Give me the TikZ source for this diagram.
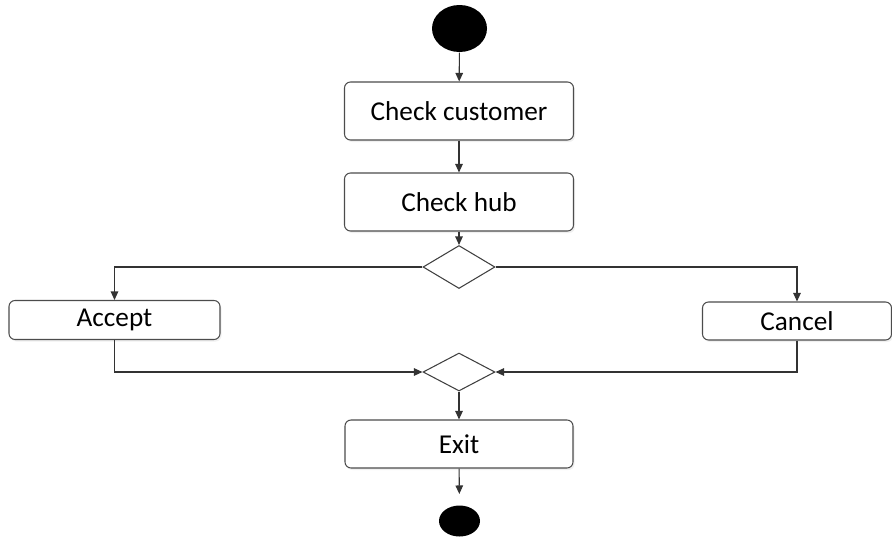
\documentclass[tikz,border=0pt]{standalone}
\usepackage{fontspec}
\setmainfont{Carlito}
\usetikzlibrary{arrows.meta, shapes.geometric, shadows}

\begin{document}
\begin{tikzpicture}[
    line width=0.6pt, draw=black!75,
    font=\fontsize{15.5}{18}\selectfont,
    action/.style={draw=black!70, rounded corners=0.12cm, fill=white,
	minimum width=4.58cm, minimum height=1.16cm,
	drop shadow={opacity=0.12, shadow xshift=0.03cm, shadow yshift=-0.04cm}},
    branch/.style={draw=black!75, shape=diamond, fill=white, inner sep=0pt,
	minimum width=1.44cm, minimum height=0.86cm},
    flow/.style={-{Triangle[length=0.17cm, width=0.15cm]}, draw=black!80}
]
    \useasboundingbox (0, 0) rectangle (17.84, -10.76);

    \node [fill=black, ellipse, minimum width=1.1cm, minimum height=0.94cm] (start) at (9.19, -0.57) {};
    \node [action] (customer) at (9.18, -2.22) {Check customer};
    \node [action] (hub) at (9.18, -4.04) {Check hub};
    \node [branch] (split) at (9.18, -5.34) {};
    \node [action, minimum width=4.22cm, minimum height=0.78cm] (accept) at (2.29, -6.4) {Accept};
    \node [action, minimum width=3.78cm, minimum height=0.76cm] (cancel) at (15.94, -6.42) {Cancel};
    \node [branch, minimum height=0.76cm] (merge) at (9.18, -7.44) {};
    \node [action, minimum width=4.56cm, minimum height=0.96cm] (exit) at (9.18, -8.88) {Exit};
    \node [fill=black, ellipse, minimum width=0.82cm, minimum height=0.62cm] (end) at (9.19, -10.42) {};

    \draw [flow] (start) -- (customer);
    \draw [flow] (customer) -- (hub);
    \draw [flow] (hub) -- (split);
    \draw [flow] (split.west) -| (accept.north);
    \draw [flow] (split.east) -| (cancel.north);
    \draw [flow] (accept.south) |- (merge.west);
    \draw [flow] (cancel.south) |- (merge.east);
    \draw [flow] (merge) -- (exit);
    \draw [flow, shorten >=0.22cm] (exit) -- (end);
\end{tikzpicture}
\end{document}
